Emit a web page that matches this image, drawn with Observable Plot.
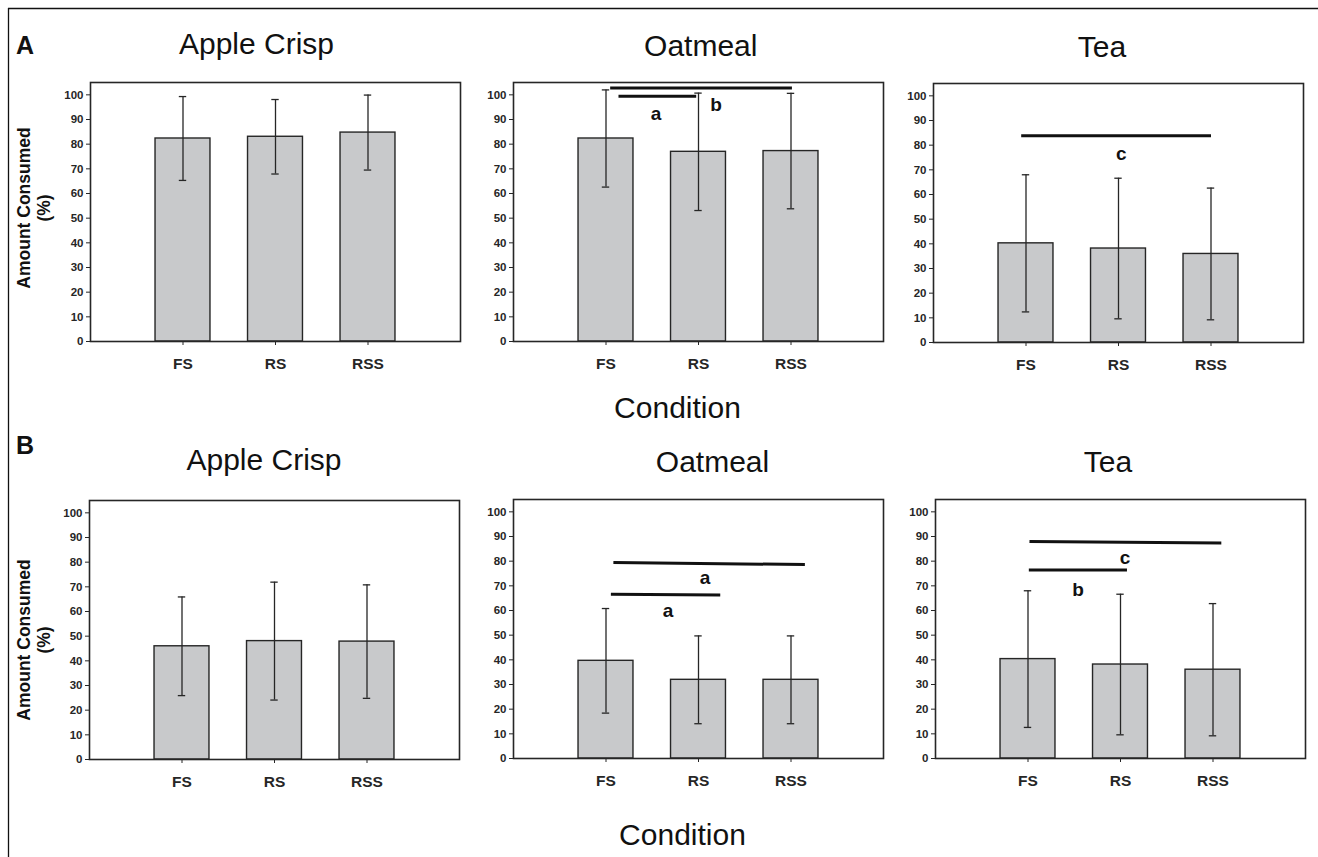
<!DOCTYPE html>
<html>
<head>
<meta charset="utf-8">
<script src="https://cdn.jsdelivr.net/npm/d3@7"></script>
<script src="https://cdn.jsdelivr.net/npm/@observablehq/plot@0.6"></script>
<style>
  html, body { margin: 0; padding: 0; background: #fff; }
  #root { position: relative; width: 1318px; height: 857px; overflow: hidden; font-family: "Liberation Sans", Arial, sans-serif; }
  .panel { position: absolute; }
  #overlay { position: absolute; left: 0; top: 0; pointer-events: none; }
</style>
</head>
<body>
<div id="root"></div>
<script>
// ---- data ----
const conditions = ["FS", "RS", "RSS"];
const foods = ["Apple Crisp", "Oatmeal", "Tea"];
const yTicks = [0, 10, 20, 30, 40, 50, 60, 70, 80, 90, 100];

// Panel A
const appleMeanA = [82.3, 83.0, 84.7];
const appleSdA   = [17.0, 15.1, 15.2];
const oatMeanA   = [82.3, 76.9, 77.2];
const oatSdA     = [19.7, 23.8, 23.4];
const teaMeanA   = [40.2, 38.1, 35.9];
const teaSdA     = [27.8, 28.5, 26.7];
// Panel B
const appleMeanB = [45.9, 48.0, 47.8];
const appleSdB   = [20.0, 23.9, 23.0];
const oatMeanB   = [39.6, 31.9, 31.9];
const oatSdB     = [21.2, 17.8, 17.8];
const teaMeanB   = [40.3, 38.1, 36.0];
const teaSdB     = [27.7, 28.5, 26.8];

// significance bars (condition-index units on x, % on y) and their letters
const oatSigA = [{x1: 1.045, x2: 3.01, y1: 102.8, y2: 102.8}, {x1: 1.135, x2: 1.975, y1: 99.4, y2: 99.4}];
const oatLetA = [{x: 1.54, y: 92.2, t: "a"}, {x: 2.19, y: 96.0, t: "b"}];
const teaSigA = [{x1: 0.948, x2: 3.0, y1: 83.8, y2: 83.8}];
const teaLetA = [{x: 2.03, y: 76.6, t: "c"}];
const oatSigB = [{x1: 1.08, x2: 3.15, y1: 79.5, y2: 78.6}, {x1: 1.053, x2: 2.235, y1: 66.6, y2: 66.3}];
const oatLetB = [{x: 2.07, y: 73.2, t: "a"}, {x: 1.67, y: 60.0, t: "a"}];
const teaSigB = [{x1: 1.016, x2: 3.09, y1: 88.0, y2: 87.4}, {x1: 1.009, x2: 2.07, y1: 76.4, y2: 76.4}];
const teaLetB = [{x: 2.05, y: 81.5, t: "c"}, {x: 1.54, y: 68.3, t: "b"}];

// ---- layout ----
const FRAME_W = 370, FRAME_H = 259;
const ML = 50, MR = 5, MT = 5, MB = 35;
const INK = "#262626";

const panels = [
  {mean: appleMeanA, sd: appleSdA, sig: [], let: [], fx: 90, fy: 82},
  {mean: oatMeanA, sd: oatSdA, sig: oatSigA, let: oatLetA, fx: 513, fy: 82},
  {mean: teaMeanA, sd: teaSdA, sig: teaSigA, let: teaLetA, fx: 933, fy: 83},
  {mean: appleMeanB, sd: appleSdB, sig: [], let: [], fx: 89, fy: 500},
  {mean: oatMeanB, sd: oatSdB, sig: oatSigB, let: oatLetB, fx: 513, fy: 499},
  {mean: teaMeanB, sd: teaSdB, sig: teaSigB, let: teaLetB, fx: 935, fy: 499}
];

const root = document.getElementById("root");
const halfBar = 0.297, halfCap = 0.04;

for (const p of panels) {
  const rows = conditions.map((c, k) => ({i: k + 1, c, mean: p.mean[k], sd: p.sd[k]}));
  const chart = Plot.plot({
    width: ML + FRAME_W + MR,
    height: MT + FRAME_H + MB,
    marginLeft: ML, marginRight: MR, marginTop: MT, marginBottom: MB,
    x: {domain: [0, 4]},
    y: {domain: [0, 105]},
    style: {fontFamily: "'Liberation Sans', Arial, sans-serif", color: INK, background: "transparent", overflow: "visible"},
    marks: [
      Plot.rect(rows, {x1: d => d.i - halfBar, x2: d => d.i + halfBar, y1: 0, y2: "mean", fill: "#c8c9cb", stroke: INK, strokeWidth: 1.4}),
      Plot.ruleX(rows, {x: "i", y1: d => d.mean - d.sd, y2: d => d.mean + d.sd, stroke: INK, strokeWidth: 1.3}),
      Plot.ruleY(rows, {y: d => d.mean + d.sd, x1: d => d.i - halfCap, x2: d => d.i + halfCap, stroke: INK, strokeWidth: 1.3}),
      Plot.ruleY(rows, {y: d => d.mean - d.sd, x1: d => d.i - halfCap, x2: d => d.i + halfCap, stroke: INK, strokeWidth: 1.3}),
      Plot.link(p.sig, {x1: "x1", x2: "x2", y1: "y1", y2: "y2", stroke: "#111", strokeWidth: 3}),
      Plot.text(p.let, {x: "x", y: "y", text: "t", fontSize: 19, fontWeight: "bold", fill: "#111"}),
      Plot.frame({stroke: INK, strokeWidth: 1.6}),
      Plot.axisY({ticks: yTicks, tickSize: 4, tickPadding: 3, fontSize: 11.5, fontWeight: "bold", label: null, tickFormat: d => String(d)}),
      Plot.axisX({ticks: [1, 2, 3], tickSize: 4, tickPadding: 12, fontSize: 15.5, fontWeight: "bold", label: null, tickFormat: i => conditions[i - 1]})
    ]
  });
  chart.classList.add("panel");
  chart.style.left = (p.fx - ML) + "px";
  chart.style.top = (p.fy - MT) + "px";
  root.appendChild(chart);
}

// ---- titles, panel letters, axis titles, outer frame ----
const svg = d3.select(root).append("svg").attr("id", "overlay")
  .attr("width", 1318).attr("height", 857)
  .style("font-family", "'Liberation Sans', Arial, sans-serif");

svg.append("line").attr("x1", 8).attr("x2", 1318).attr("y1", 8.5).attr("y2", 8.5).attr("stroke", "#111").attr("stroke-width", 1.3);
svg.append("line").attr("x1", 8.5).attr("x2", 8.5).attr("y1", 8).attr("y2", 857).attr("stroke", "#111").attr("stroke-width", 1.3);

const titles = [
  {t: foods[0], x: 256.5, y: 54}, {t: foods[1], x: 700.8, y: 55.5}, {t: foods[2], x: 1102, y: 57.2},
  {t: foods[0], x: 264, y: 469.5}, {t: foods[1], x: 712.5, y: 471.5}, {t: foods[2], x: 1108, y: 472}
];
for (const d of titles) {
  svg.append("text").attr("x", d.x).attr("y", d.y).attr("text-anchor", "middle")
    .attr("font-size", 30).attr("fill", "#111").text(d.t);
}
svg.append("text").attr("x", 677.5).attr("y", 418).attr("text-anchor", "middle").attr("font-size", 30).attr("fill", "#111").text("Condition");
svg.append("text").attr("x", 682.5).attr("y", 845).attr("text-anchor", "middle").attr("font-size", 30).attr("fill", "#111").text("Condition");

svg.append("text").attr("x", 16).attr("y", 53.5).attr("font-size", 25).attr("font-weight", "bold").attr("fill", "#111").text("A");
svg.append("text").attr("x", 16).attr("y", 453.5).attr("font-size", 25).attr("font-weight", "bold").attr("fill", "#111").text("B");

for (const yc of [208, 640]) {
  const g = svg.append("g");
  g.append("text").attr("transform", `translate(29.5,${yc}) rotate(-90)`).attr("text-anchor", "middle")
    .attr("font-size", 17.5).attr("font-weight", "bold").attr("fill", "#111").text("Amount Consumed");
  g.append("text").attr("transform", `translate(49.5,${yc}) rotate(-90)`).attr("text-anchor", "middle")
    .attr("font-size", 17.5).attr("font-weight", "bold").attr("fill", "#111").text("(%)");
}
</script>
</body>
</html>
